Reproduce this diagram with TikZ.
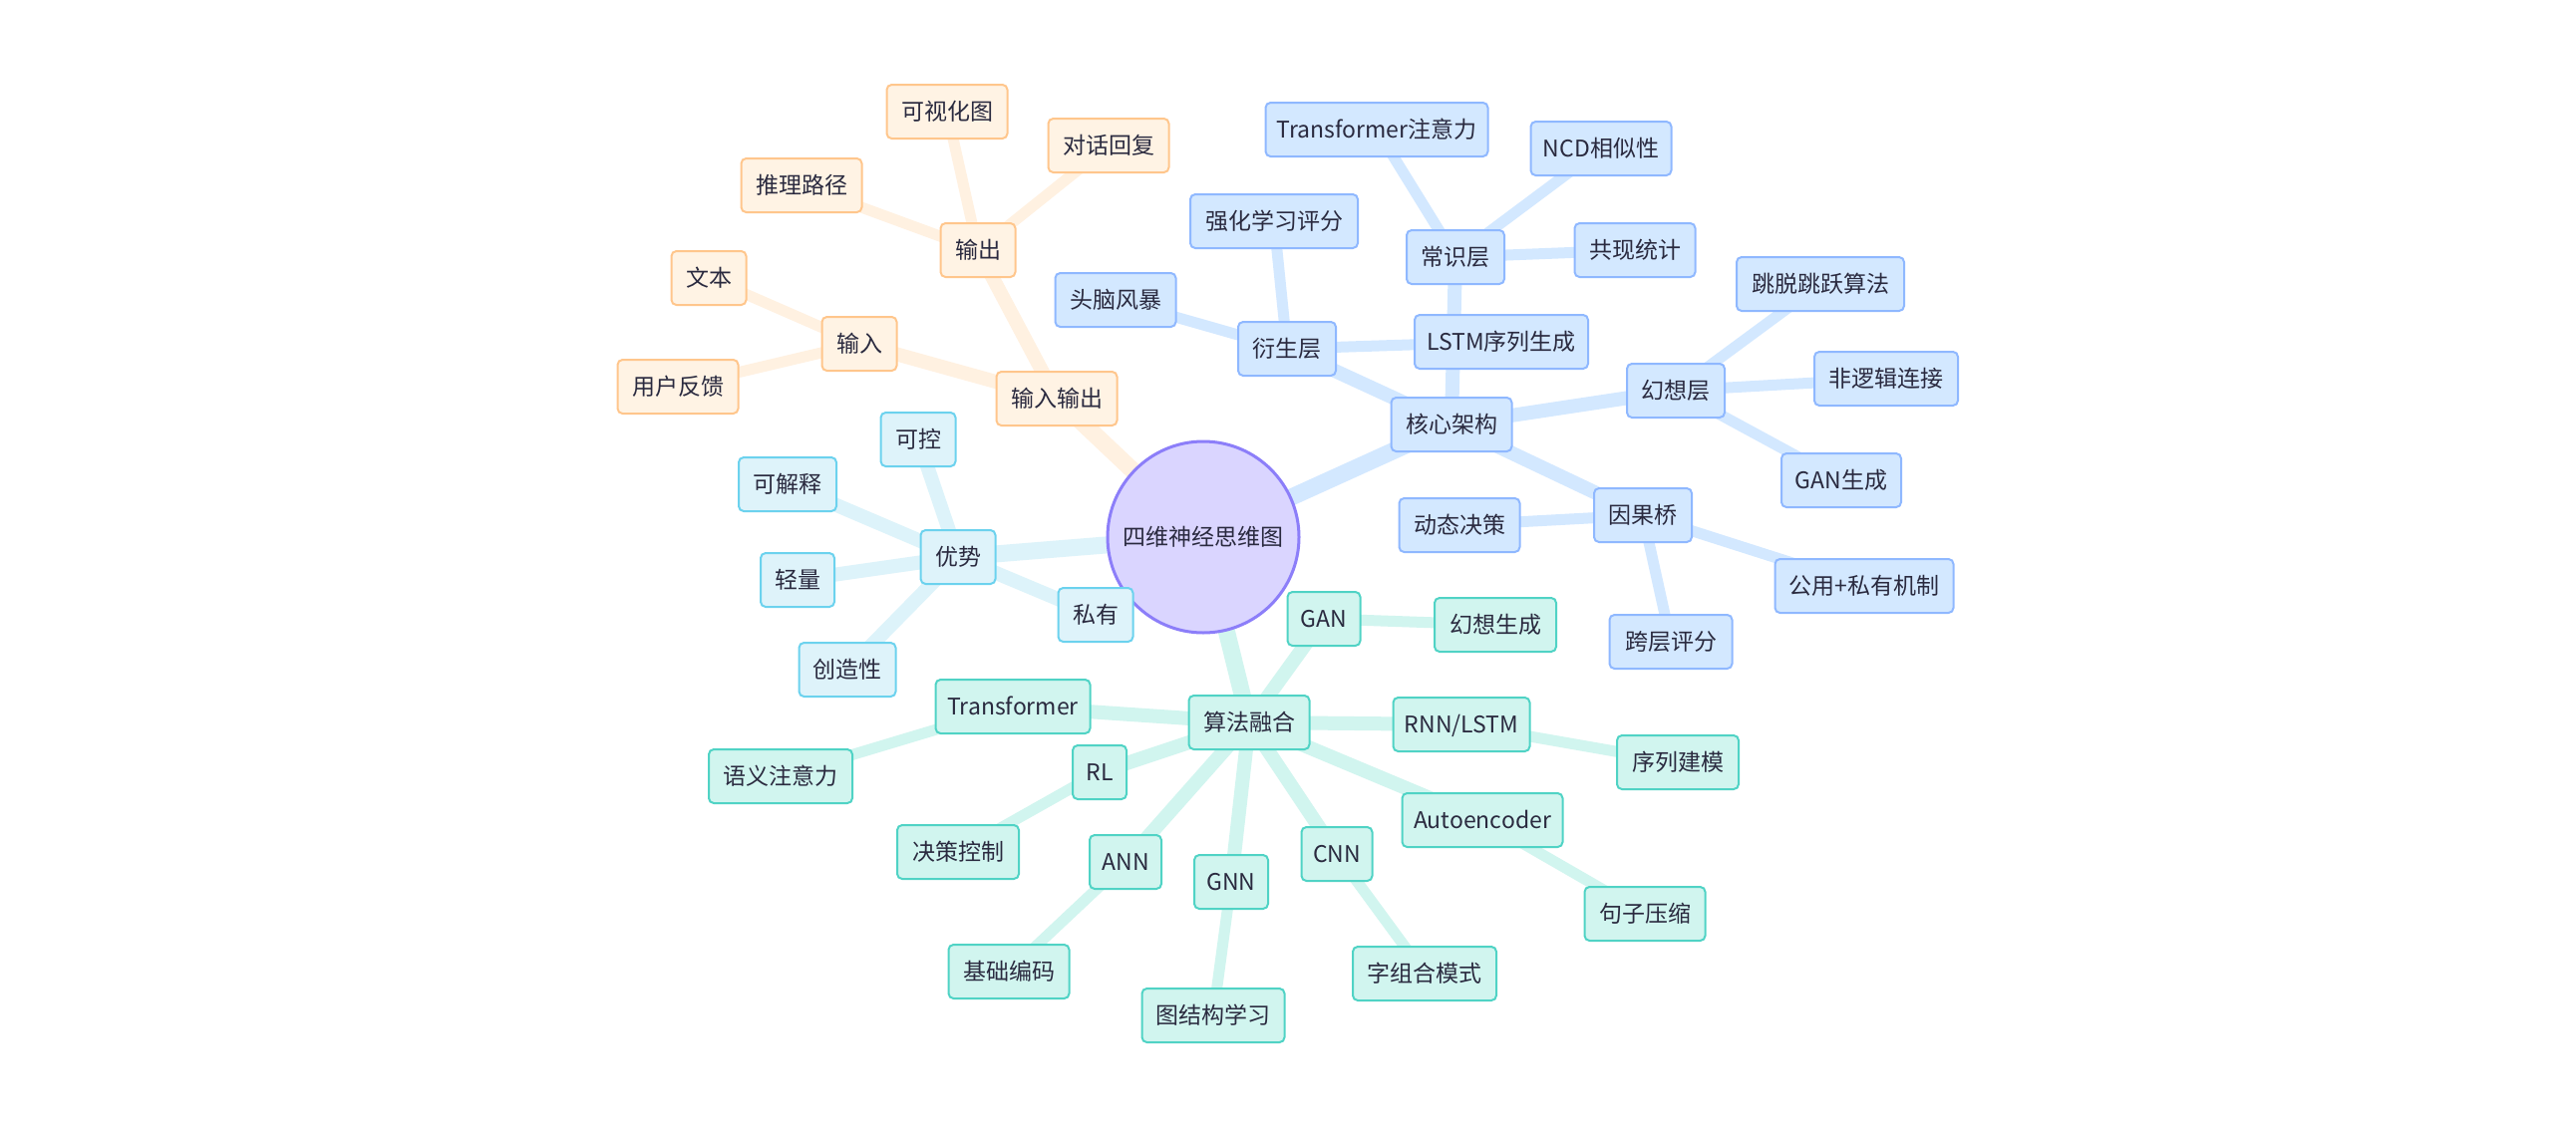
\documentclass[tikz,border=0pt]{standalone}
\usepackage{fontspec}
\setmainfont{Noto Sans CJK SC}
\usetikzlibrary{backgrounds}
\definecolor{txt}{HTML}{2A2A3F}
\definecolor{ofill}{HTML}{FFF3E4}
\definecolor{oline}{HTML}{FFC68C}
\definecolor{oedge}{HTML}{FFF1E1}
\definecolor{bfill}{HTML}{D3E8FF}
\definecolor{bline}{HTML}{8FB8FF}
\definecolor{bedge}{HTML}{D3E8FF}
\definecolor{cfill}{HTML}{DEF3FA}
\definecolor{cline}{HTML}{6CD2EE}
\definecolor{cedge}{HTML}{DDF3FA}
\definecolor{tfill}{HTML}{D1F5EF}
\definecolor{tline}{HTML}{50D3C5}
\definecolor{tedge}{HTML}{D1F5EF}
\definecolor{rfill}{HTML}{DAD5FF}
\definecolor{rline}{HTML}{8C7EF9}
\begin{document}
\begin{tikzpicture}[x=1pt,y=-1pt,
  box/.style={rectangle, rounded corners=5pt, line width=2pt, minimum height=54pt,
    inner xsep=0pt, inner ysep=0pt, text=txt, font=\fontsize{23}{28}\selectfont,
    text height=19pt, text depth=2pt},
  ob/.style={box, fill=ofill, draw=oline},
  bb/.style={box, fill=bfill, draw=bline},
  cb/.style={box, fill=cfill, draw=cline},
  tb/.style={box, fill=tfill, draw=tline},
  rootnode/.style={circle, minimum size=192pt, inner sep=0pt, fill=rfill, draw=rline,
    line width=3pt, text=txt, font=\fontsize{23}{28}\selectfont, text height=19pt, text depth=2pt},
  ezero/.style={line width=17pt},
  eone/.style={line width=14pt},
  etwo/.style={line width=11pt},
]
\useasboundingbox (0,0) rectangle (2584,1130);

% root
\node[rootnode] (root) at (1207,539) {四维神经思维图};

% orange branch
\node[ob, minimum width=121pt] (io) at (1060,400) {输入输出};
\node[ob, minimum width=75pt] (in) at (862,345) {输入};
\node[ob, minimum width=75pt] (out) at (981,251) {输出};
\node[ob, minimum width=75pt] (txtn) at (711,279) {文本};
\node[ob, minimum width=121pt] (fb) at (680,388) {用户反馈};
\node[ob, minimum width=121pt] (path) at (804,186) {推理路径};
\node[ob, minimum width=121pt] (vis) at (950,112) {可视化图};
\node[ob, minimum width=121pt] (dlg) at (1112,146) {对话回复};

% blue branch
\node[bb, minimum width=121pt] (core) at (1456,426) {核心架构};
\node[bb, minimum width=98pt] (cs) at (1460,258) {常识层};
\node[bb, minimum width=223pt] (tfa) at (1381,130) {Transformer注意力};
\node[bb, minimum width=141pt] (ncd) at (1606,149) {NCD相似性};
\node[bb, minimum width=121pt] (cooc) at (1640,251) {共现统计};
\node[bb, minimum width=98pt] (der) at (1291,350) {衍生层};
\node[bb, minimum width=121pt] (brain) at (1119,301) {头脑风暴};
\node[bb, minimum width=168pt] (rls) at (1278,222) {强化学习评分};
\node[bb, minimum width=174pt] (lstmg) at (1506,343) {LSTM序列生成};
\node[bb, minimum width=98pt] (fan) at (1681,392) {幻想层};
\node[bb, minimum width=168pt] (jump) at (1826,285) {跳脱跳跃算法};
\node[bb, minimum width=144pt] (nonl) at (1892,380) {非逻辑连接};
\node[bb, minimum width=120pt] (gang) at (1847,482) {GAN生成};
\node[bb, minimum width=98pt] (cbr) at (1648,517) {因果桥};
\node[bb, minimum width=121pt] (dyn) at (1464,527) {动态决策};
\node[bb, minimum width=123pt] (cross) at (1676,644) {跨层评分};
\node[bb, minimum width=179pt] (pub) at (1870,588) {公用+私有机制};

% teal branch
\node[tb, minimum width=121pt] (alg) at (1253,725) {算法融合};
\node[tb, minimum width=155pt] (trf) at (1016,709) {Transformer};
\node[tb, minimum width=144pt] (sem) at (783,779) {语义注意力};
\node[tb, minimum width=54pt] (rlx) at (1103,775) {RL};
\node[tb, minimum width=122pt] (dec) at (961,855) {决策控制};
\node[tb, minimum width=72pt] (ann) at (1129,865) {ANN};
\node[tb, minimum width=121pt] (base) at (1012,975) {基础编码};
\node[tb, minimum width=74pt] (gnn) at (1235,885) {GNN};
\node[tb, minimum width=143pt] (graph) at (1217,1019) {图结构学习};
\node[tb, minimum width=71pt] (cnn) at (1341,857) {CNN};
\node[tb, minimum width=144pt] (word) at (1429,977) {字组合模式};
\node[tb, minimum width=161pt] (ae) at (1487,823) {Autoencoder};
\node[tb, minimum width=121pt] (sent) at (1650,917) {句子压缩};
\node[tb, minimum width=137pt] (rnn) at (1466,727) {RNN/LSTM};
\node[tb, minimum width=122pt] (seq) at (1683,765) {序列建模};
\node[tb, minimum width=73pt] (gan) at (1328,621) {GAN};
\node[tb, minimum width=122pt] (fgen) at (1500,627) {幻想生成};

% cyan branch
\node[cb, minimum width=75pt] (adv) at (961,559) {优势};
\node[cb, minimum width=75pt] (ctrl) at (921,441) {可控};
\node[cb, minimum width=98pt] (expl) at (790,486) {可解释};
\node[cb, minimum width=74pt] (light) at (800,582) {轻量};
\node[cb, minimum width=97pt] (crea) at (850,672) {创造性};
\node[cb, minimum width=75pt] (priv) at (1099,617) {私有};

\begin{scope}[on background layer]
\fill[white] (0,0) rectangle (2584,1130);
% orange edges
\draw[oedge, ezero] (root.center) -- (io.center);
\draw[oedge, eone] (io.center) -- (in.center);
\draw[oedge, eone] (io.center) -- (out.center);
\draw[oedge, etwo] (in.center) -- (txtn.center);
\draw[oedge, etwo] (in.center) -- (fb.center);
\draw[oedge, etwo] (out.center) -- (path.center);
\draw[oedge, etwo] (out.center) -- (vis.center);
\draw[oedge, etwo] (out.center) -- (dlg.center);
% blue edges
\draw[bedge, ezero] (root.center) -- (core.center);
\draw[bedge, eone] (core.center) -- (cs.center);
\draw[bedge, eone] (core.center) -- (der.center);
\draw[bedge, eone] (core.center) -- (fan.center);
\draw[bedge, eone] (core.center) -- (cbr.center);
\draw[bedge, etwo] (cs.center) -- (tfa.center);
\draw[bedge, etwo] (cs.center) -- (ncd.center);
\draw[bedge, etwo] (cs.center) -- (cooc.center);
\draw[bedge, etwo] (der.center) -- (brain.center);
\draw[bedge, etwo] (der.center) -- (rls.center);
\draw[bedge, etwo] (der.center) -- (lstmg.center);
\draw[bedge, etwo] (fan.center) -- (jump.center);
\draw[bedge, etwo] (fan.center) -- (nonl.center);
\draw[bedge, etwo] (fan.center) -- (gang.center);
\draw[bedge, etwo] (cbr.center) -- (dyn.center);
\draw[bedge, etwo] (cbr.center) -- (cross.center);
\draw[bedge, etwo] (cbr.center) -- (pub.center);
% teal edges
\draw[tedge, ezero] (root.center) -- (alg.center);
\draw[tedge, eone] (alg.center) -- (trf.center);
\draw[tedge, eone] (alg.center) -- (rlx.center);
\draw[tedge, eone] (alg.center) -- (ann.center);
\draw[tedge, eone] (alg.center) -- (gnn.center);
\draw[tedge, eone] (alg.center) -- (cnn.center);
\draw[tedge, eone] (alg.center) -- (ae.center);
\draw[tedge, eone] (alg.center) -- (rnn.center);
\draw[tedge, eone] (alg.center) -- (gan.center);
\draw[tedge, etwo] (trf.center) -- (sem.center);
\draw[tedge, etwo] (rlx.center) -- (dec.center);
\draw[tedge, etwo] (ann.center) -- (base.center);
\draw[tedge, etwo] (gnn.center) -- (graph.center);
\draw[tedge, etwo] (cnn.center) -- (word.center);
\draw[tedge, etwo] (ae.center) -- (sent.center);
\draw[tedge, etwo] (rnn.center) -- (seq.center);
\draw[tedge, etwo] (gan.center) -- (fgen.center);
% cyan edges
\draw[cedge, ezero] (root.center) -- (adv.center);
\draw[cedge, eone] (adv.center) -- (ctrl.center);
\draw[cedge, eone] (adv.center) -- (expl.center);
\draw[cedge, eone] (adv.center) -- (light.center);
\draw[cedge, eone] (adv.center) -- (crea.center);
\draw[cedge, eone] (adv.center) -- (priv.center);
\end{scope}
\end{tikzpicture}
\end{document}
